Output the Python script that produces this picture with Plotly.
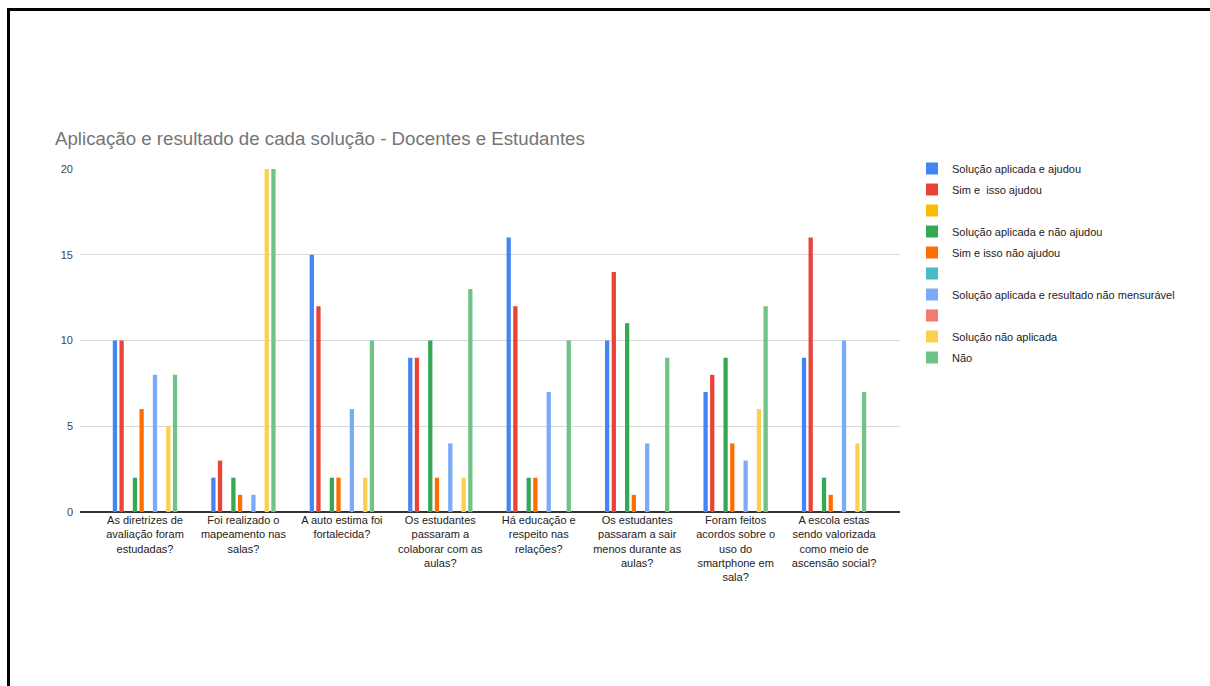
import plotly.graph_objects as go

categories = [
    "As diretrizes de<br>avaliação foram<br>estudadas?",
    "Foi realizado o<br>mapeamento nas<br>salas?",
    "A auto estima foi<br>fortalecida?",
    "Os estudantes<br>passaram a<br>colaborar com as<br>aulas?",
    "Há educação e<br>respeito nas<br>relações?",
    "Os estudantes<br>passaram a sair<br>menos durante as<br>aulas?",
    "Foram feitos<br>acordos sobre o<br>uso do<br>smartphone em<br>sala?",
    "A escola estas<br>sendo valorizada<br>como meio de<br>ascensão social?",
]

series_names = [
    "Solução aplicada e ajudou",
    "Sim e  isso ajudou",
    "",
    "Solução aplicada e não ajudou",
    "Sim e isso não ajudou",
    "",
    "Solução aplicada e resultado não mensurável",
    "",
    "Solução não aplicada",
    "Não",
]

aplicada_ajudou = [10, 2, 15, 9, 16, 10, 7, 9]
sim_ajudou = [10, 3, 12, 9, 12, 14, 8, 16]
vazio_1 = [None] * 8
aplicada_nao_ajudou = [2, 2, 2, 10, 2, 11, 9, 2]
sim_nao_ajudou = [6, 1, 2, 2, 2, 1, 4, 1]
vazio_2 = [None] * 8
nao_mensuravel = [8, 1, 6, 4, 7, 4, 3, 10]
vazio_3 = [None] * 8
nao_aplicada = [5, 20, 2, 2, 0, 0, 6, 4]
nao = [8, 20, 10, 13, 10, 9, 12, 7]

series_values = [
    aplicada_ajudou, sim_ajudou, vazio_1, aplicada_nao_ajudou, sim_nao_ajudou,
    vazio_2, nao_mensuravel, vazio_3, nao_aplicada, nao,
]

colors = ["#4285F4", "#EA4335", "#FBBC04", "#34A853", "#FF6D01",
          "#46BDC6", "#7BAAF7", "#F07B72", "#FCD04F", "#71C287"]

fig = go.Figure()
for i, (name, vals, col) in enumerate(zip(series_names, series_values, colors)):
    fig.add_trace(go.Bar(
        x=categories, y=vals, name=name, marker=dict(color=col, line=dict(width=0)),
        legendgroup=f"g{i}",
    ))

# plot area pixels: x 80..900, y 169..512
L, R, T, B = 80, 900, 169, 512
W, H = 1210, 686
pw, ph = R - L, B - T

def px_x(p):
    return (p - L) / pw

def px_y(p):
    return (B - p) / ph

fig.update_layout(
    width=W, height=H,
    margin=dict(l=L, r=W - R, t=T, b=H - B, pad=0),
    paper_bgcolor="white", plot_bgcolor="white",
    barmode="group", bargap=0.322, bargroupgap=0.36,
    font=dict(family="Arial, Liberation Sans, sans-serif", size=11, color="#222222"),
    title=dict(
        text="Aplicação e resultado de cada solução - Docentes e Estudantes",
        font=dict(size=18.7, color="#757575", family="Arial, Liberation Sans, sans-serif"),
        x=55 / W, xanchor="left", xref="container",
        y=1 - 138 / H, yanchor="middle", yref="container",
    ),
    legend=dict(
        x=px_x(912), xanchor="left", y=px_y(154), yanchor="top",
        font=dict(size=11, color="#222222"),
        tracegroupgap=2, bgcolor="rgba(0,0,0,0)",
    ),
    xaxis=dict(
        range=[-0.66, 7.67], showgrid=False, showline=False, ticks="",
        tickfont=dict(size=11, color="#222222"), tickangle=0,
    ),
    yaxis=dict(
        range=[0, 20], dtick=5, showgrid=True, gridcolor="#d9d9d9", gridwidth=1,
        zeroline=True, zerolinecolor="#333333", zerolinewidth=1.5,
        showline=False, ticks="", tickfont=dict(size=11, color="#444444"),
        ticklabelstandoff=6,
    ),
    shapes=[
        dict(type="line", xref="paper", yref="paper",
             x0=px_x(8.5), x1=px_x(W + 5), y0=px_y(9.5), y1=px_y(9.5),
             line=dict(color="black", width=3)),
        dict(type="line", xref="paper", yref="paper",
             x0=px_x(8.5), x1=px_x(8.5), y0=px_y(8), y1=px_y(H + 5),
             line=dict(color="black", width=3)),
    ],
)

fig.write_html("out.html")
